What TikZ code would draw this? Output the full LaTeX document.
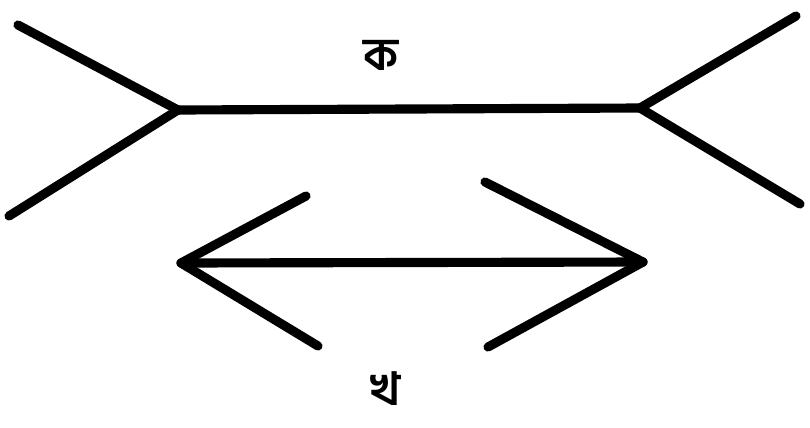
\documentclass[tikz,border=0pt]{standalone}
\usepackage{fontspec}
\newfontfamily\bengfont[Script=Bengali]{Hind Siliguri}
\usetikzlibrary{positioning, calc}

\begin{document}
\begin{tikzpicture}[
        x=0.02cm, y=-0.02cm,
        shaft/.style={line width=5.2pt, line cap=round, line join=round},
        fin/.style={line width=5.2pt, line cap=round},
        lbl/.style={font=\bengfont\bfseries\fontsize{26}{28}\selectfont, inner sep=0pt}
    ]
        \useasboundingbox (0,0) rectangle (810,427);

        % upper figure (ka)
        \coordinate (kl) at (178,110);
        \coordinate (kr) at (640,108);
        \coordinate (kl1) at (18,25);
        \coordinate (kl2) at (9,216);
        \coordinate (kr1) at (796,16);
        \coordinate (kr2) at (800,204);
        \node (ka) [lbl] at (381,55) {ক};

        \draw [shaft] (kl) -- (kr);
        \draw [fin] (kl) -- (kl1);
        \draw [fin] (kl) -- (kl2);
        \draw [fin] (kr) -- (kr1);
        \draw [fin] (kr) -- (kr2);

        % lower figure (kha)
        \coordinate (gl) at (181,263);
        \coordinate (gr) at (643,262);
        \coordinate (gl1) at (306,196);
        \coordinate (gl2) at (318,346);
        \coordinate (gr1) at (485,182);
        \coordinate (gr2) at (488,347);
        \node (kha) [lbl] at (386,389) {খ};

        \draw [shaft] (gl) -- (gr);
        \draw [fin] (gl) -- (gl1);
        \draw [fin] (gl) -- (gl2);
        \draw [fin] (gr) -- (gr1);
        \draw [fin] (gr) -- (gr2);
    \end{tikzpicture}
\end{document}
